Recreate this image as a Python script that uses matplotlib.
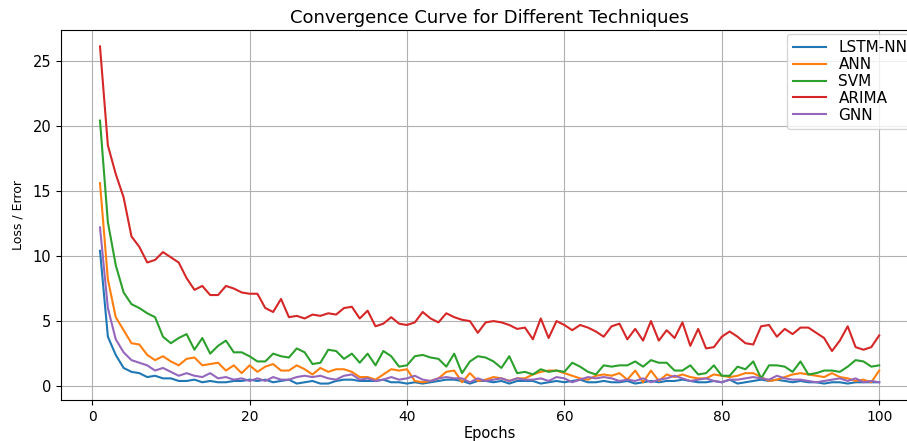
import matplotlib
matplotlib.use("Agg")
import matplotlib.pyplot as plt
import numpy as np

epochs = np.arange(1, 101)

lstm_nn = [10.4, 3.8, 2.4, 1.4, 1.1, 1.0, 0.7, 0.8, 0.6, 0.6,
           0.4, 0.4, 0.5, 0.3, 0.4, 0.3, 0.3, 0.4, 0.4, 0.5,
           0.4, 0.5, 0.3, 0.4, 0.5, 0.2, 0.3, 0.4, 0.2, 0.2,
           0.4, 0.5, 0.5, 0.4, 0.4, 0.4, 0.5, 0.3, 0.3, 0.2,
           0.3, 0.2, 0.3, 0.4, 0.5, 0.5, 0.4, 0.2, 0.4, 0.4,
           0.3, 0.4, 0.2, 0.4, 0.4, 0.4, 0.2, 0.3, 0.4, 0.3,
           0.4, 0.5, 0.3, 0.3, 0.4, 0.3, 0.3, 0.4, 0.2, 0.3,
           0.4, 0.3, 0.4, 0.4, 0.5, 0.4, 0.3, 0.3, 0.4, 0.3,
           0.5, 0.2, 0.3, 0.4, 0.5, 0.4, 0.5, 0.4, 0.3, 0.4,
           0.3, 0.3, 0.2, 0.3, 0.3, 0.2, 0.3, 0.3, 0.3, 0.3]

ann = [15.6, 8.2, 5.3, 4.3, 3.3, 3.2, 2.4, 2.0, 2.3, 1.9,
       1.6, 2.1, 2.2, 1.6, 1.7, 1.8, 1.2, 1.6, 1.0, 1.6,
       1.1, 1.5, 1.7, 1.2, 1.2, 1.6, 1.3, 0.9, 1.4, 1.1,
       1.3, 1.3, 1.1, 0.7, 0.7, 0.5, 0.9, 1.3, 1.2, 1.3,
       0.4, 0.3, 0.4, 0.6, 1.1, 1.2, 0.3, 1.0, 0.4, 0.5,
       0.7, 0.6, 0.4, 0.6, 0.6, 0.9, 1.1, 1.2, 1.2, 1.0,
       0.8, 0.6, 0.5, 0.8, 0.9, 0.8, 1.0, 0.5, 1.2, 0.3,
       1.2, 0.4, 0.9, 0.7, 0.9, 0.7, 0.6, 0.6, 0.9, 0.8,
       0.7, 0.8, 1.0, 1.0, 0.7, 0.4, 0.5, 0.7, 0.9, 1.0,
       0.9, 0.8, 0.7, 1.0, 0.7, 0.6, 0.4, 0.5, 0.3, 1.2]

svm = [20.4, 12.6, 9.3, 7.2, 6.3, 6.0, 5.6, 5.3, 3.8, 3.3,
       3.7, 4.0, 2.8, 3.7, 2.5, 3.1, 3.5, 2.6, 2.6, 2.3,
       1.9, 1.9, 2.5, 2.3, 2.2, 2.9, 2.6, 1.7, 1.8, 2.8,
       2.7, 2.1, 2.5, 1.8, 2.5, 1.6, 2.7, 2.3, 1.5, 1.6,
       2.3, 2.4, 2.2, 2.1, 1.5, 2.5, 1.0, 1.9, 2.3, 2.2,
       1.9, 1.4, 2.3, 1.0, 1.1, 0.9, 1.3, 1.1, 1.2, 1.1,
       1.8, 1.5, 1.1, 0.9, 1.6, 1.5, 1.6, 1.6, 1.9, 1.5,
       2.0, 1.8, 1.8, 1.2, 1.2, 1.6, 0.9, 1.0, 1.6, 0.8,
       0.8, 1.5, 1.3, 1.9, 0.6, 1.6, 1.6, 1.5, 1.1, 1.9,
       0.9, 1.0, 1.2, 1.2, 1.1, 1.5, 2.0, 1.9, 1.5, 1.6]

arima = [26.1, 18.5, 16.3, 14.5, 11.5, 10.7, 9.5, 9.7, 10.3, 9.9,
         9.5, 8.3, 7.4, 7.7, 7.0, 7.0, 7.7, 7.5, 7.2, 7.1,
         7.1, 6.0, 5.7, 6.7, 5.3, 5.4, 5.2, 5.5, 5.4, 5.6,
         5.5, 6.0, 6.1, 5.2, 5.8, 4.6, 4.8, 5.3, 4.8, 4.7,
         4.9, 5.7, 5.2, 4.9, 5.6, 5.3, 5.1, 5.0, 4.1, 4.9,
         5.0, 4.9, 4.7, 4.4, 4.5, 3.6, 5.2, 3.7, 5.0, 4.7,
         4.3, 4.7, 4.5, 4.2, 3.8, 4.6, 4.8, 3.6, 4.4, 3.5,
         5.0, 3.5, 4.3, 3.7, 4.9, 3.1, 4.4, 2.9, 3.0, 3.8,
         4.2, 3.8, 3.3, 3.2, 4.6, 4.7, 3.8, 4.4, 4.0, 4.5,
         4.5, 4.1, 3.7, 2.7, 3.5, 4.6, 3.0, 2.8, 3.0, 3.9]

gnn = [12.2, 6.0, 3.6, 2.6, 2.0, 1.8, 1.6, 1.2, 1.4, 1.1,
       0.8, 1.0, 0.8, 0.7, 1.0, 0.6, 0.7, 0.5, 0.6, 0.4,
       0.6, 0.4, 0.7, 0.5, 0.5, 0.7, 0.8, 0.7, 0.8, 0.6,
       0.5, 0.8, 0.9, 0.5, 0.6, 0.4, 0.5, 0.7, 0.5, 0.6,
       0.8, 0.5, 0.4, 0.6, 0.7, 0.6, 0.6, 0.3, 0.6, 0.4,
       0.5, 0.6, 0.4, 0.6, 0.5, 0.5, 0.6, 0.4, 0.7, 0.6,
       0.3, 0.5, 0.7, 0.6, 0.7, 0.6, 0.4, 0.5, 0.4, 0.6,
       0.3, 0.5, 0.6, 0.8, 0.6, 0.4, 0.5, 0.6, 0.4, 0.3,
       0.5, 0.5, 0.6, 0.7, 0.6, 0.5, 0.8, 0.6, 0.5, 0.5,
       0.4, 0.3, 0.4, 0.5, 0.6, 0.4, 0.6, 0.3, 0.4, 0.3]

series = [("LSTM-NN", lstm_nn), ("ANN", ann), ("SVM", svm),
          ("ARIMA", arima), ("GNN", gnn)]

fig = plt.figure(figsize=(9.07, 4.41), dpi=100)
# axes run a bit past the right edge of the canvas
ax = fig.add_axes([0.0673, 0.092, 0.945, 0.841])

for name, values in series:
    ax.plot(epochs, values, label=name)

ax.set_title("Convergence Curve for Different Techniques", fontsize=13, pad=5)
ax.set_xlabel("Epochs", fontsize=10.5, labelpad=1)
ax.set_ylabel("Loss / Error", fontsize=9, labelpad=6)
ax.tick_params(axis="y", labelsize=10.5)
ax.grid(True)
ax.legend(loc="upper right", fontsize=11, labelspacing=0.12,
          borderaxespad=0.3, handlelength=2.2)

fig.savefig("out.png", dpi=100)
